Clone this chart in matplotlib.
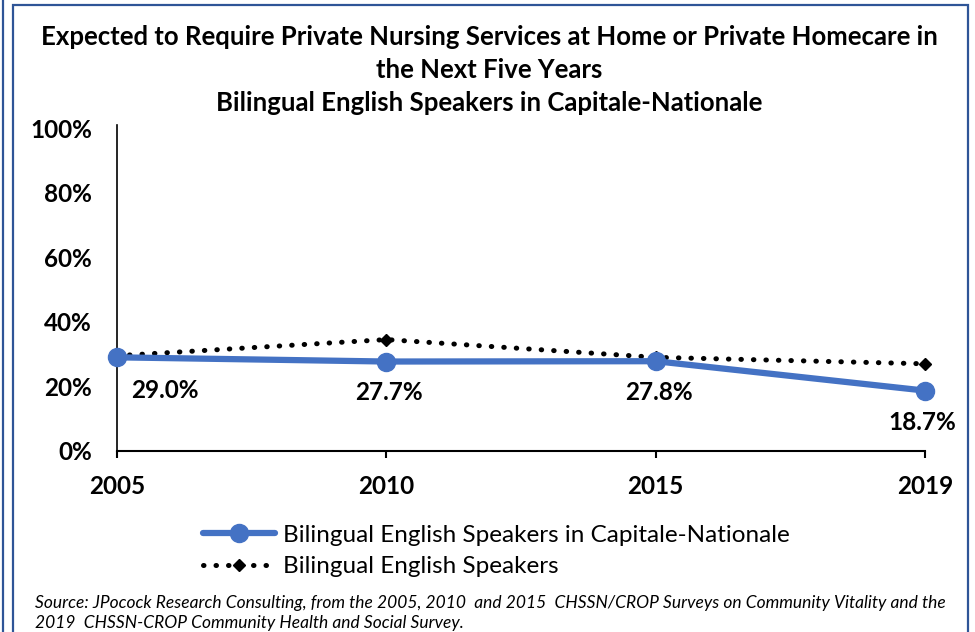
import matplotlib.pyplot as plt
from matplotlib.patches import Rectangle
from matplotlib.lines import Line2D

plt.rcParams['font.family'] = ['Lato', 'DejaVu Sans']

years = ['2005', '2010', '2015', '2019']
capitale = [29.0, 27.7, 27.8, 18.7]
bilingual = [29.5, 34.5, 29.0, 27.0]
labels = ['29.0%', '27.7%', '27.8%', '18.7%']

W, H = 975, 632
fig = plt.figure(figsize=(W / 100, H / 100), dpi=100)
ax = fig.add_axes([117 / W, 1 - 451 / H, (925 - 117) / W, (451 - 128) / H])

x = list(range(len(years)))
ax.plot(x, bilingual, color='black', linestyle=(0, (0.1, 2.4)), linewidth=3.6,
        dash_capstyle='round', marker='D', markersize=6, zorder=2,
        label='Bilingual English Speakers')
ax.plot(x, capitale, color='#4472C4', linewidth=4.5, marker='o', markersize=13,
        solid_capstyle='round', zorder=3,
        label='Bilingual English Speakers in Capitale-Nationale')

offsets = [(48, -33), (3, -31), (3, -31), (-3, -32)]
for xi, v, lab, off in zip(x, capitale, labels, offsets):
    ax.annotate(lab, (xi, v), xytext=off, textcoords='offset pixels',
                ha='center', va='center', fontsize=17.5, fontweight='bold')

ax.set_xlim(0, len(years) - 1)
ax.set_ylim(0, 100)
ax.set_yticks(range(0, 101, 20))
ax.set_yticklabels([f'{v}%' for v in range(0, 101, 20)])
ax.set_xticks(x)
ax.set_xticklabels(years)
for s in ['top', 'right']:
    ax.spines[s].set_visible(False)
ax.spines['left'].set_linewidth(1.2)
ax.spines['bottom'].set_linewidth(1.5)
ax.spines['left'].set_bounds(0, 101)
ax.tick_params(axis='y', length=0, pad=18, labelsize=17.5)
ax.tick_params(axis='x', length=5, width=1.5, direction='out', pad=12, labelsize=17.5)
for t in ax.get_xticklabels() + ax.get_yticklabels():
    t.set_fontweight('bold')
for ln in ax.get_lines():
    ln.set_clip_on(False)

fig.text(489 / W, 1 - 37 / H,
         'Expected to Require Private Nursing Services at Home or Private Homecare in',
         ha='center', va='center', fontsize=18.5, fontweight='bold')
fig.text(489 / W, 1 - 70 / H, 'the Next Five Years',
         ha='center', va='center', fontsize=18.5, fontweight='bold')
fig.text(489 / W, 1 - 103 / H, 'Bilingual English Speakers in Capitale-Nationale',
         ha='center', va='center', fontsize=18.5, fontweight='bold')

handles, leg_labels = ax.get_legend_handles_labels()
leg = fig.legend(handles[::-1], leg_labels[::-1], loc='center',
                 bbox_to_anchor=(496 / W, 1 - 551 / H), frameon=False,
                 fontsize=17.5, handlelength=3.0, handletextpad=0.3, labelspacing=0.45)

fig.text(35 / W, 1 - 603 / H,
         'Source: JPocock Research Consulting, from the 2005, 2010  and 2015  CHSSN/CROP Surveys on Community Vitality and the',
         ha='left', va='center', fontsize=12.5, style='italic')
fig.text(35 / W, 1 - 623 / H,
         '2019  CHSSN-CROP Community Health and Social Survey.',
         ha='left', va='center', fontsize=12.5, style='italic')

frame = '#2F5597'
fig.add_artist(Rectangle((13 / W, -0.1), (968 - 13) / W, 1.1 - 5 / H, transform=fig.transFigure,
                         fill=False, edgecolor=frame, linewidth=1.6))
fig.add_artist(Line2D([3 / W, 3 / W], [0, 1], transform=fig.transFigure,
                      color=frame, linewidth=1.6))

fig.savefig('out.png', dpi=100)
